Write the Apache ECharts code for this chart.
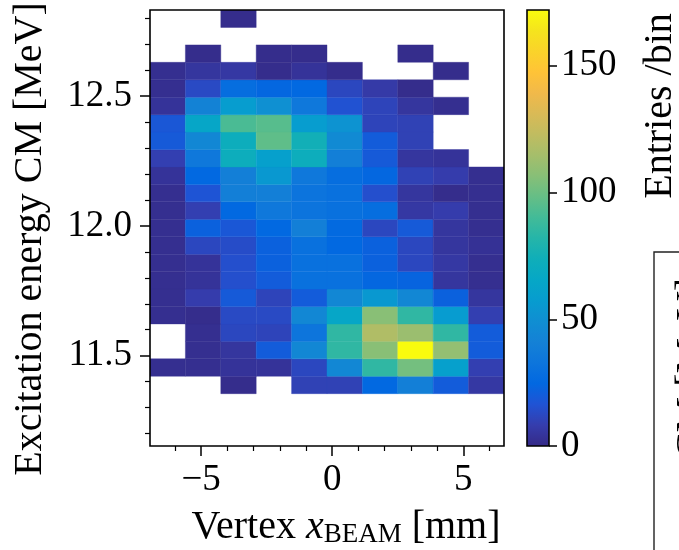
<!DOCTYPE html>
<html>
<head>
<meta charset="utf-8">
<script src="https://cdn.jsdelivr.net/npm/echarts@6/dist/echarts.min.js"></script>
<style>
html, body { margin: 0; padding: 0; background: #ffffff; }
#chart { width: 679px; height: 550px; }
</style>
</head>
<body>
<div id="chart"></div>
<script>
// Vertex x_BEAM bin centres [mm] and bin width
const vertexCenters = [-6.275, -4.925, -3.575, -2.225, -0.875, 0.475, 1.825, 3.175, 4.525, 5.875];
const vertexBinWidth = 1.35;

// Excitation energy bin centres [MeV], lowest first, and bin width
const energyCenters = [
  11.1856, 11.2528, 11.3200, 11.3872, 11.4544, 11.5216, 11.5888, 11.6560, 11.7232,
  11.7904, 11.8576, 11.9248, 11.9920, 12.0592, 12.1264, 12.1936, 12.2608, 12.3280,
  12.3952, 12.4624, 12.5296, 12.5968, 12.6640, 12.7312, 12.7984
];
const energyBinWidth = 0.0672;

// Entries per bin, one row per energy bin (lowest energy first), columns follow vertexCenters
const counts = [
  [0, 0, 0, 0, 0, 0, 0, 0, 0, 0],
  [0, 0, 0, 0, 0, 0, 0, 0, 0, 0],
  [0, 0, 0, 0, 0, 0, 0, 0, 0, 0],
  [0, 0, 1, 0, 10, 10, 25, 40, 20, 6],
  [2, 2, 4, 4, 12, 45, 85, 102, 60, 9],
  [0, 2, 5, 20, 45, 85, 107, 172, 110, 20],
  [0, 2, 12, 11, 33, 85, 118, 112, 85, 20],
  [2, 1, 13, 13, 45, 65, 107, 85, 57, 9],
  [2, 8, 19, 11, 20, 45, 55, 45, 22, 5],
  [2, 4, 15, 20, 30, 30, 24, 23, 5, 2],
  [2, 4, 15, 22, 30, 30, 22, 12, 6, 2],
  [2, 12, 14, 22, 30, 25, 22, 12, 5, 3],
  [2, 22, 18, 25, 40, 26, 12, 19, 5, 2],
  [2, 9, 25, 35, 32, 30, 28, 6, 8, 2],
  [2, 17, 40, 40, 32, 30, 15, 5, 1, 2],
  [4, 25, 40, 55, 35, 28, 24, 10, 8, 2],
  [9, 35, 72, 60, 72, 40, 19, 5, 4, 0],
  [19, 45, 72, 97, 75, 47, 20, 10, 0, 0],
  [18, 65, 92, 95, 58, 52, 11, 10, 0, 0],
  [4, 42, 58, 50, 35, 16, 11, 5, 2, 0],
  [2, 13, 28, 24, 25, 12, 7, 1, 0, 0],
  [2, 5, 6, 1, 4, 1, 0, 0, 1, 0],
  [0, 1, 0, 1, 1, 0, 0, 1, 0, 0],
  [0, 0, 0, 0, 0, 0, 0, 0, 0, 0],
  [0, 0, 1, 0, 0, 0, 0, 0, 0, 0]
];

// Axis ranges and ticks
const xRange = [-6.95, 6.55];
const yRange = [11.152, 12.832];
const xMajorTicks = [-5, 0, 5];
const xMinorTicks = [-6, -4, -3, -2, -1, 1, 2, 3, 4, 6];
const yMajorTicks = [11.5, 12.0, 12.5];
const yMinorTicks = [11.2, 11.3, 11.4, 11.6, 11.7, 11.8, 11.9, 12.1, 12.2, 12.3, 12.4, 12.6, 12.7, 12.8];
const colorbarTicks = [0, 50, 100, 150];
const colorbarMax = 172;

// Parula colour map anchors: [position, r, g, b]
const PARULA = [
  [0 / 63, 0.2081, 0.1663, 0.5292], [3 / 63, 0.2081, 0.2386, 0.6771],
  [6 / 63, 0.1253, 0.3242, 0.8303], [9 / 63, 0.0060, 0.4086, 0.8828],
  [12 / 63, 0.0498, 0.4586, 0.8641], [15 / 63, 0.0779, 0.5040, 0.8384],
  [18 / 63, 0.0641, 0.5570, 0.8240], [21 / 63, 0.0265, 0.6137, 0.8135],
  [24 / 63, 0.0228, 0.6535, 0.7768], [27 / 63, 0.0590, 0.6838, 0.7254],
  [30 / 63, 0.1453, 0.7098, 0.6646], [33 / 63, 0.2586, 0.7317, 0.5954],
  [36 / 63, 0.3953, 0.7459, 0.5244], [39 / 63, 0.5300, 0.7491, 0.4661],
  [42 / 63, 0.6473, 0.7456, 0.4188], [45 / 63, 0.7525, 0.7384, 0.3768],
  [48 / 63, 0.8507, 0.7299, 0.3360], [51 / 63, 0.9450, 0.7261, 0.2886],
  [54 / 63, 0.9990, 0.7653, 0.2164], [57 / 63, 0.9789, 0.8271, 0.1633],
  [60 / 63, 0.9589, 0.8949, 0.1132], [63 / 63, 0.9763, 0.9831, 0.0538]
];

function rgb(r, g, b) {
  return 'rgb(' + Math.round(r * 255) + ',' + Math.round(g * 255) + ',' + Math.round(b * 255) + ')';
}

function parula(t) {
  t = Math.max(0, Math.min(1, t));
  for (let i = 1; i < PARULA.length; i++) {
    const a = PARULA[i - 1], b = PARULA[i];
    if (t <= b[0]) {
      const f = (t - a[0]) / (b[0] - a[0]);
      return rgb(a[1] + f * (b[1] - a[1]), a[2] + f * (b[2] - a[2]), a[3] + f * (b[3] - a[3]));
    }
  }
  const last = PARULA[PARULA.length - 1];
  return rgb(last[1], last[2], last[3]);
}

// Non-empty bins as [x, E, entries]
const cells = [];
counts.forEach((row, i) => {
  row.forEach((n, j) => {
    if (n > 0) cells.push([vertexCenters[j], energyCenters[i], n]);
  });
});

const FONT = 'Liberation Serif';
const GRID = { left: 150, top: 10, width: 354, height: 436 };
const CBAR = { left: 527, top: 10, width: 22, height: 436 };
const INK = '#000000';
const LABEL_FONT = '40px "Liberation Serif"';

const minus = v => (v < 0 ? '\u2212' + Math.abs(v) : String(v));

const tickLabel = { fontFamily: FONT, fontSize: 37, color: INK };
const noLine = { show: false, onZero: false };

const chart = echarts.init(document.getElementById('chart'), null, { renderer: 'canvas' });

chart.setOption({
  animation: false,
  backgroundColor: '#ffffff',
  grid: [
    { left: GRID.left, top: GRID.top, width: GRID.width, height: GRID.height, containLabel: false },
    { left: CBAR.left, top: CBAR.top, width: CBAR.width, height: CBAR.height, containLabel: false }
  ],
  xAxis: [
    {
      gridIndex: 0, type: 'value', min: xRange[0], max: xRange[1], position: 'bottom',
      axisLine: noLine, splitLine: { show: false },
      axisTick: { show: true, inside: false, length: 10, lineStyle: { color: INK, width: 1.5 }, customValues: xMajorTicks },
      axisLabel: Object.assign({ customValues: xMajorTicks, formatter: minus, margin: 16 }, tickLabel)
    },
    {
      gridIndex: 0, type: 'value', min: xRange[0], max: xRange[1], position: 'bottom',
      axisLine: noLine, splitLine: { show: false },
      axisTick: { show: true, inside: false, length: 5, lineStyle: { color: INK, width: 1.2 }, customValues: xMinorTicks },
      axisLabel: { show: false }
    },
    { gridIndex: 1, type: 'value', min: 0, max: 1, show: false, axisLine: noLine }
  ],
  yAxis: [
    {
      gridIndex: 0, type: 'value', min: yRange[0], max: yRange[1], position: 'left',
      axisLine: noLine, splitLine: { show: false },
      axisTick: { show: true, inside: false, length: 10, lineStyle: { color: INK, width: 1.5 }, customValues: yMajorTicks },
      axisLabel: Object.assign({ customValues: yMajorTicks, formatter: v => v.toFixed(1), margin: 18 }, tickLabel)
    },
    {
      gridIndex: 0, type: 'value', min: yRange[0], max: yRange[1], position: 'left',
      axisLine: noLine, splitLine: { show: false },
      axisTick: { show: true, inside: false, length: 5, lineStyle: { color: INK, width: 1.2 }, customValues: yMinorTicks },
      axisLabel: { show: false }
    },
    {
      gridIndex: 1, type: 'value', min: 0, max: colorbarMax, position: 'right',
      axisLine: noLine, splitLine: { show: false },
      axisTick: { show: true, inside: false, length: 8, lineStyle: { color: INK, width: 1.5 }, customValues: colorbarTicks },
      axisLabel: Object.assign({ customValues: colorbarTicks, margin: 12 }, tickLabel)
    }
  ],
  series: [
    {
      type: 'custom',
      xAxisIndex: 0,
      yAxisIndex: 0,
      clip: true,
      encode: { x: 0, y: 1 },
      data: cells,
      renderItem: function (params, api) {
        const x = api.value(0), e = api.value(1), n = api.value(2);
        const p0 = api.coord([x - vertexBinWidth / 2, e + energyBinWidth / 2]);
        const p1 = api.coord([x + vertexBinWidth / 2, e - energyBinWidth / 2]);
        const col = parula(n / colorbarMax);
        return {
          type: 'rect',
          shape: { x: p0[0], y: p0[1], width: p1[0] - p0[0], height: p1[1] - p0[1] },
          style: { fill: col, stroke: col, lineWidth: 0.4 }
        };
      }
    },
    {
      type: 'custom',
      xAxisIndex: 2,
      yAxisIndex: 2,
      data: [[0, 0]],
      renderItem: function (params, api) {
        const p0 = api.coord([0, colorbarMax]);
        const p1 = api.coord([1, 0]);
        const stops = PARULA.map(a => ({ offset: a[0], color: rgb(a[1], a[2], a[3]) }));
        return {
          type: 'rect',
          shape: { x: p0[0], y: p0[1], width: p1[0] - p0[0], height: p1[1] - p0[1] },
          style: { fill: new echarts.graphic.LinearGradient(0, 1, 0, 0, stops) }
        };
      }
    }
  ],
  graphic: [
    // axes frames
    {
      type: 'rect', z: 100, silent: true,
      shape: { x: GRID.left, y: GRID.top, width: GRID.width, height: GRID.height },
      style: { fill: 'none', stroke: INK, lineWidth: 1.6 }
    },
    {
      type: 'rect', z: 100, silent: true,
      shape: { x: CBAR.left, y: CBAR.top, width: CBAR.width, height: CBAR.height },
      style: { fill: 'none', stroke: INK, lineWidth: 1.6 }
    },
    // axis titles
    {
      type: 'text', z: 100, silent: true, x: 30, y: 239, rotation: Math.PI / 2,
      style: {
        text: 'Excitation energy CM [MeV]', fill: INK,
        font: LABEL_FONT, align: 'center', verticalAlign: 'middle',
        textAlign: 'center', textVerticalAlign: 'middle'
      }
    },
    {
      type: 'text', z: 100, silent: true, x: 346, y: 527,
      style: {
        text: '{r|Vertex }{i|x}{s|BEAM}{r| [mm]}', fill: INK,
        align: 'center', verticalAlign: 'middle', textAlign: 'center', textVerticalAlign: 'middle',
        rich: {
          r: { fontFamily: FONT, fontSize: 40, lineHeight: 42, verticalAlign: 'middle', color: INK },
          i: { fontFamily: FONT, fontSize: 40, fontStyle: 'italic', lineHeight: 42, verticalAlign: 'middle', color: INK },
          s: { fontFamily: FONT, fontSize: 27, lineHeight: 21, verticalAlign: 'bottom', color: INK }
        }
      }
    },
    {
      type: 'text', z: 100, silent: true, x: 660, y: 106, rotation: Math.PI / 2,
      style: {
        text: 'Entries /bin', fill: INK,
        font: LABEL_FONT, align: 'center', verticalAlign: 'middle',
        textAlign: 'center', textVerticalAlign: 'middle'
      }
    },
    // neighbouring panel
    {
      type: 'rect', z: 100, silent: true,
      shape: { x: 654, y: 252, width: 200, height: 400 },
      style: { fill: 'none', stroke: '#222222', lineWidth: 1.4 }
    },
    {
      type: 'text', z: 100, silent: true, x: 692, y: 278, rotation: Math.PI / 2,
      style: {
        text: 'Excitation energy CM [MeV]', fill: INK,
        font: LABEL_FONT, align: 'right', verticalAlign: 'middle',
        textAlign: 'right', textVerticalAlign: 'middle'
      }
    }
  ]
});
</script>
</body>
</html>
